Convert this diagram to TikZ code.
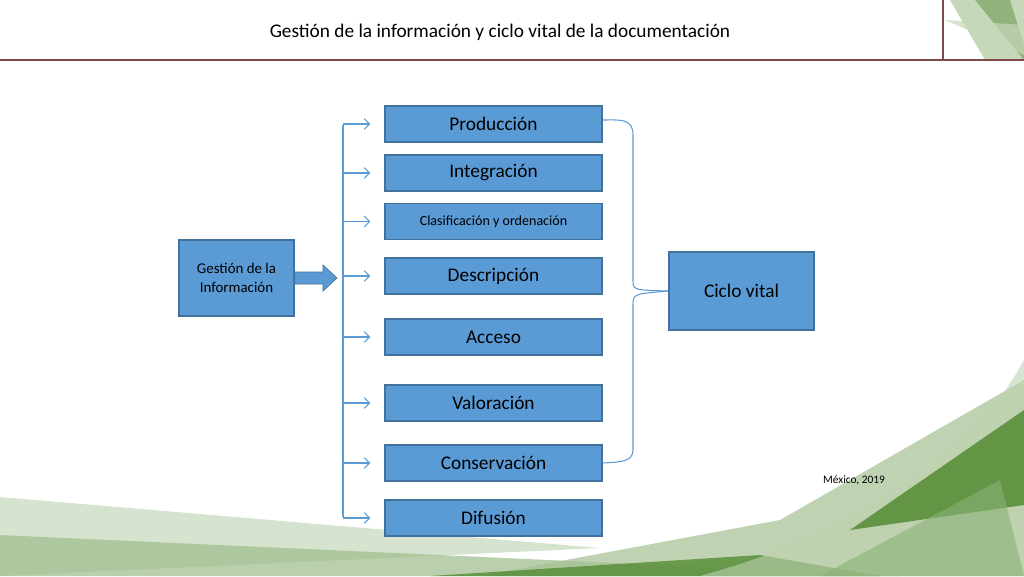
\documentclass[tikz,border=0pt]{standalone}
\usepackage{fontspec}
\setmainfont{Carlito}
\usetikzlibrary{arrows.meta}
\definecolor{boxblue}{HTML}{5B9BD5}
\definecolor{boxedge}{HTML}{41719C}
\definecolor{linered}{HTML}{7F4A4A}
\definecolor{leaf}{HTML}{5A8F3A}
\tikzset{
  stage/.style={draw=boxedge, fill=boxblue, line width=0.8pt, minimum width=4.34cm, minimum height=0.72cm, font=\fontsize{11}{13}\selectfont},
  branch/.style={draw=boxblue, line width=0.6pt, -{Straight Barb[length=3pt,width=6pt]}}
}
\begin{document}
\begin{tikzpicture}[x=0.02cm, y=-0.02cm]
\useasboundingbox (0,0) rectangle (1024,576);

% green decoration
\fill[leaf!35, opacity=0.7] (0,497) -- (600,548) -- (0,576) -- cycle;
\fill[leaf!60, opacity=0.7] (0,535) -- (900,576) -- (0,576) -- cycle;
\fill[leaf!55, opacity=0.7] (480,576) -- (780,520) -- (1024,380) -- (1024,576) -- cycle;
\fill[leaf, opacity=0.85] (430,576) -- (760,555) -- (880,576) -- cycle;
\fill[leaf!40, opacity=0.6] (700,576) .. controls (900,520) and (980,440) .. (1024,360) -- (1024,576) -- cycle;
\fill[leaf, opacity=0.9] (850,530) -- (1024,410) -- (1024,505) -- cycle;
\fill[leaf!70, opacity=0.6] (820,576) -- (1000,480) -- (1024,576) -- cycle;
\fill[leaf!50, opacity=0.7] (950,0) -- (1024,0) -- (1024,60) -- (985,60) -- cycle;
\fill[leaf!80, opacity=0.7] (975,0) -- (1010,0) -- (1024,45) -- (1024,60) -- cycle;
\fill[leaf!35, opacity=0.7] (945,20) -- (1024,25) -- (1024,55) -- cycle;

% header
\node (title) at (500,32) {\fontsize{11}{13}\selectfont Gestión de la información y ciclo vital de la documentación};
\draw[linered, line width=0.8pt] (0,60) -- (1024,60);
\draw[linered, line width=0.8pt] (943,0) -- (943,60);

% boxes
\node[stage, minimum width=2.3cm, minimum height=1.52cm, align=center, font=\fontsize{8.5}{11}\selectfont] (gest) at (236.5,278) {Gestión de la\\Información};
\node[stage] (prod) at (493.5,124) {Producción};
\node[stage] (integ) at (493.5,173) {Integración};
\node[stage, font=\fontsize{8}{10}\selectfont] (clas) at (493.5,221.5) {Clasificación y ordenación};
\node[stage] (desc) at (493.5,276) {Descripción};
\node[stage] (acc) at (493.5,337) {Acceso};
\node[stage] (val) at (493.5,403) {Valoración};
\node[stage] (cons) at (493.5,463) {Conservación};
\node[stage] (dif) at (493.5,518) {Difusión};
\node[stage, minimum width=2.9cm, minimum height=1.56cm] (ciclo) at (741.5,291) {Ciclo vital};
\node[font=\fontsize{6.5}{8}\selectfont] (mex) at (854,480) {México, 2019};

% block arrow
\fill[boxblue, draw=boxedge, line width=0.4pt] (gest.east |- 0,272) -- (323,272) -- (323,265) -- (337,278) -- (323,291) -- (323,284) -- (gest.east |- 0,284) -- cycle;

% branches
\coordinate (top) at (343,125);
\coordinate (bot) at (343,517);
\draw[boxblue, line width=0.6pt] (top) -- (bot);
\foreach \b in {prod,integ,clas,desc,acc,val,cons,dif}
  \draw[branch] (343,0 |- \b.west) -- ([xshift=-8pt]\b.west);

% brace
\draw[boxblue, line width=0.6pt] (prod.east) ++(0,-4) .. controls (620,120) and (633,118) .. (633,135) -- (633,280) .. controls (633,290) .. (ciclo.west);
\draw[boxblue, line width=0.6pt] (ciclo.west) .. controls (633,294) .. (633,305) -- (633,450) .. controls (633,462) and (620,462) .. (cons.east);
\end{tikzpicture}
\end{document}
